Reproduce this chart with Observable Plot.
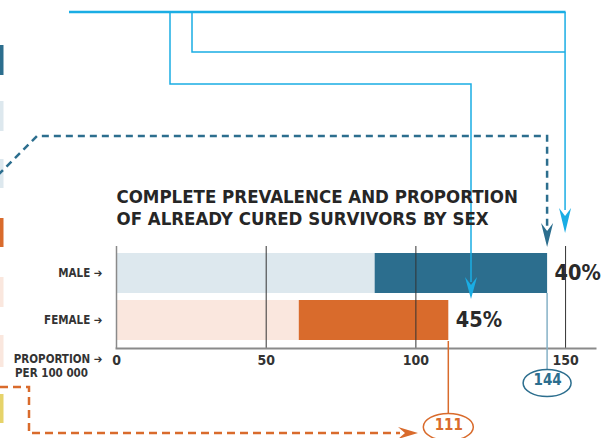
<!DOCTYPE html>
<html><head><meta charset="utf-8">
<script src="https://cdn.jsdelivr.net/npm/d3@7"></script>
<script src="https://cdn.jsdelivr.net/npm/@observablehq/plot@0.6"></script>
<style>
html,body{margin:0;padding:0;background:#fff;}
#chart{width:608px;height:438px;overflow:hidden;position:relative;}
#chart svg{display:block;}
</style></head><body><div id="chart"></div>
<script>
// ---- data ----
const sexes = ["MALE", "FEMALE"];
const totals = [144, 111];            // complete prevalence per 100 000
const curedShare = [0.40, 0.45];      // proportion already cured
const pctLabels = ["40%", "45%"];
const totalLabels = ["144", "111"];
const xTicks = [0, 50, 100, 150];
const titleText = "COMPLETE PREVALENCE AND PROPORTION\nOF ALREADY CURED SURVIVORS BY SEX";
const xLabelLine1 = "PROPORTION \u2794";
const xLabelLine2 = "PER 100 000";

// ---- styles ----
const FONT = "'DejaVu Sans Condensed','Liberation Sans Narrow','Arial Narrow',sans-serif";
const palette = {
  MALE: {rest: "#DDE8EE", cured: "#2C6E8E", ring: "#2C6E8E", line: "#86B1C7"},
  FEMALE: {rest: "#FAE7DE", cured: "#D96B2C", ring: "#D96B2C", line: "#D96B2C"}
};
const CYAN = "#1AADE4";
const TEAL = "#2C6E8E";
const ORANGE = "#D96B2C";

const segments = sexes.flatMap((s, i) => [
  {sex: s, part: "rest", value: totals[i] * (1 - curedShare[i])},
  {sex: s, part: "cured", value: totals[i] * curedShare[i]}
]);
const rows = sexes.map((s, i) => ({sex: s, total: totals[i], pct: pctLabels[i], totalLabel: totalLabels[i]}));

// decorative connectors / legend swatches (page furniture)
function decorations(index, scales, values, dim) {
  const x = scales.x;
  const g = d3.create("svg:g").attr("fill", "none");
  const arrowDown = (cx, tip, len, hw) => `M${cx-hw},${tip-len}L${cx},${tip}L${cx+hw},${tip-len}L${cx},${tip-len+8}Z`;
  const arrowRight = (tx, cy, len, hw) => `M${tx-len},${cy-hw}L${tx},${cy}L${tx-len},${cy+hw}L${tx-len+7},${cy}Z`;
  const sw = [[45,75,"#2C6E8E"],[101,131,"#DDE8EE"],[159,188,"#DDE8EE"],[218,247,"#D96B2C"],[277,307,"#FAE7DE"],[335,367,"#FAE7DE"],[394,423,"#E6D36A"]];
  for (const [a,b,c] of sw) g.append("rect").attr("x",0).attr("y",a).attr("width",3.5).attr("height",b-a).attr("fill",c);
  const x150 = x(150), xM = x(totals[0]), xF = x(totals[1]);
  g.append("path").attr("d", `M69,12H${x150+0.5}`).attr("stroke", CYAN).attr("stroke-width", 2.5);
  g.append("path").attr("d", `M${x150},12V210`).attr("stroke", CYAN).attr("stroke-width", 1.5);
  g.append("path").attr("d", arrowDown(x150, 233, 25, 6)).attr("fill", CYAN);
  g.append("path").attr("d", `M192,12V52H${x150}`).attr("stroke", CYAN).attr("stroke-width", 1.5);
  g.append("path").attr("d", `M170,12V84H471V282`).attr("stroke", CYAN).attr("stroke-width", 1.5);
  g.append("path").attr("d", arrowDown(471, 299, 22, 6)).attr("fill", CYAN);
  g.append("path").attr("d", `M-2,175L37,136H${xM}V226`).attr("stroke", TEAL).attr("stroke-width", 2.5).attr("stroke-dasharray", "7,5");
  g.append("path").attr("d", arrowDown(xM, 247, 24, 6)).attr("fill", TEAL);
  g.append("path").attr("d", `M${xM},293V369.5`).attr("stroke", palette.MALE.line).attr("stroke-width", 1.5);
  g.append("ellipse").attr("cx", xM).attr("cy", 383).attr("rx", 24).attr("ry", 13.5).attr("stroke", palette.MALE.ring).attr("stroke-width", 1.5).attr("fill", "#fff");
  g.append("path").attr("d", `M${xF},341V413.5`).attr("stroke", palette.FEMALE.line).attr("stroke-width", 1.5);
  g.append("ellipse").attr("cx", xF).attr("cy", 427).attr("rx", 25).attr("ry", 13.5).attr("stroke", palette.FEMALE.ring).attr("stroke-width", 1.5).attr("fill", "#fff");
  g.append("path").attr("d", `M0,387H29V433H400`).attr("stroke", ORANGE).attr("stroke-width", 2.5).attr("stroke-dasharray", "8,5");
  g.append("path").attr("d", arrowRight(418, 433, 20, 6)).attr("fill", ORANGE);
  return g.node();
}

const chart = Plot.plot({
  width: 608,
  height: 438,
  marginLeft: 116,
  marginRight: 13,
  marginTop: 246,
  marginBottom: 90,
  style: {fontFamily: FONT, color: "#2a2a2a", background: "#fff", overflow: "visible"},
  x: {domain: [0, 160], axis: null},
  y: {domain: sexes, padding: 0.147, axis: null},
  marks: [
    Plot.barX(segments, {x: "value", y: "sex", fill: d => palette[d.sex][d.part]}),
    Plot.ruleX(xTicks.filter(d => d > 0), {stroke: "#333", strokeWidth: 1}),
    Plot.ruleX([0], {stroke: "#8a8a8a", strokeWidth: 1.5}),
    Plot.frame({anchor: "bottom", stroke: "#8a8a8a", strokeWidth: 2}),
    decorations,
    Plot.axisX({ticks: xTicks, tickSize: 0, tickPadding: 7, fontSize: 14, fontWeight: 600, tickFormat: d => String(d), color: "#333", label: null}),
    Plot.axisY({tickSize: 0, tickPadding: 14, fontSize: 11.5, fontWeight: "bold", tickFormat: d => d + " \u2794", color: "#333", label: null}),
    Plot.text(rows, {x: "total", y: "sex", text: "pct", dx: 7, textAnchor: "start", fontSize: 21.5, fontWeight: "bold", fill: "#2a2a2a"}),
    Plot.text(rows.filter(d => d.sex === "MALE"), {x: "total", text: "totalLabel", frameAnchor: "bottom", dy: 36, fontSize: 15, fontWeight: 600, fill: palette.MALE.ring}),
    Plot.text(rows.filter(d => d.sex === "FEMALE"), {x: "total", text: "totalLabel", frameAnchor: "bottom", dy: 81, fontSize: 15, fontWeight: 600, fill: palette.FEMALE.ring}),
    Plot.text([titleText], {frameAnchor: "top-left", textAnchor: "start", lineAnchor: "bottom", dy: -22, lineHeight: 1.18, fontSize: 18.5, fontWeight: "bold", fill: "#262626"}),
    Plot.text([xLabelLine1], {frameAnchor: "bottom-left", textAnchor: "end", dx: -14, dy: 14, fontSize: 11.5, fontWeight: "bold", fill: "#333"}),
    Plot.text([xLabelLine2], {frameAnchor: "bottom-left", textAnchor: "middle", dx: -65, dy: 28, fontSize: 11.5, fontWeight: "bold", fill: "#333"})
  ]
});
document.getElementById("chart").append(chart);
</script>
</body></html>
